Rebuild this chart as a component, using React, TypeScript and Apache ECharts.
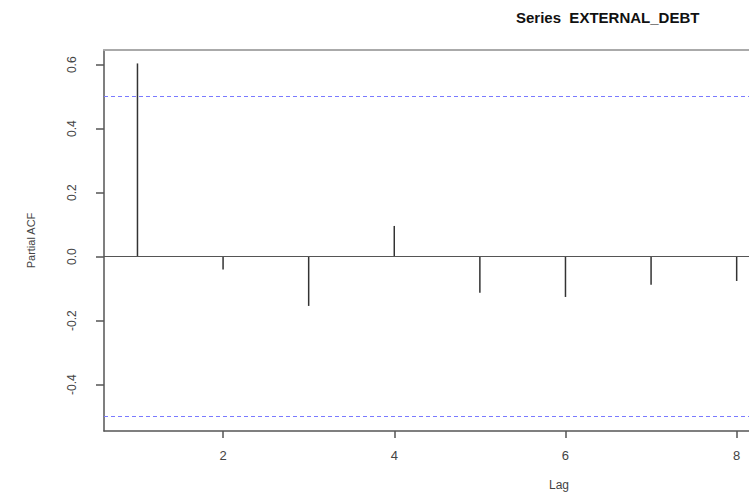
import React, { useEffect, useRef } from "react";
import * as echarts from "echarts";

const lags = [1, 2, 3, 4, 5, 6, 7, 8];
const pacf = [0.604, -0.04, -0.154, 0.096, -0.113, -0.126, -0.088, -0.076];
const ciBound = 0.502;
const xTicks = [2, 4, 6, 8];
const yTicks = [-0.4, -0.2, 0.0, 0.2, 0.4, 0.6];
const titleText = "Series  EXTERNAL_DEBT";

export default function App() {
  const ref = useRef<HTMLDivElement>(null);
  useEffect(() => {
    if (!ref.current) return;
    const chart = echarts.init(ref.current, null, { renderer: "svg" });
    const font = "'Liberation Sans', Arial, sans-serif";
    chart.setOption({
      animation: false,
      backgroundColor: "#ffffff",
      title: {
        text: titleText,
        left: 511,
        top: 5,
        textStyle: { fontFamily: font, fontSize: 15, fontWeight: "bold", color: "#111" },
      },
      grid: { left: 104, top: 50, right: 0, bottom: 66, containLabel: false },
      xAxis: [
        {
          type: "value",
          min: 0.609,
          max: 8.144,
          position: "bottom",
          splitLine: { show: false },
          axisLine: { show: true, onZero: false, lineStyle: { color: "#555", width: 1.5 } },
          axisTick: { show: true, length: 7, customValues: xTicks, lineStyle: { color: "#555", width: 1.5 } },
          axisLabel: {
            customValues: xTicks,
            margin: 18,
            fontFamily: font,
            fontSize: 13,
            color: "#444",
            formatter: (v: number) => String(v),
          },
        },
        {
          type: "value",
          min: 0.609,
          max: 8.144,
          position: "top",
          splitLine: { show: false },
          axisLine: { show: true, onZero: false, lineStyle: { color: "#aaa", width: 2 } },
          axisTick: { show: false },
          axisLabel: { show: false },
        },
      ],
      yAxis: {
        type: "value",
        min: -0.545,
        max: 0.646,
        name: "Partial ACF",
        nameLocation: "middle",
        nameGap: 68,
        nameTextStyle: { fontFamily: font, fontSize: 11, color: "#444" },
        splitLine: { show: false },
        axisLine: { show: true, onZero: false, lineStyle: { color: "#555", width: 1.5 } },
        axisTick: { show: true, length: 8, customValues: yTicks, lineStyle: { color: "#555", width: 1.5 } },
        axisLabel: {
          customValues: yTicks,
          rotate: 90,
          margin: 26,
          fontFamily: font,
          fontSize: 12,
          color: "#444",
          formatter: (v: number) => v.toFixed(1),
        },
      },
      graphic: [
        {
          type: "text",
          left: 549,
          top: 479,
          style: { text: "Lag", fontFamily: font, fontSize: 12, fill: "#444" },
        },
      ],
      series: [
        {
          type: "custom",
          xAxisIndex: 0,
          yAxisIndex: 0,
          data: lags.map((l, i) => [l, pacf[i]]),
          renderItem: (params: any, api: any) => {
            const p0 = api.coord([api.value(0), 0]);
            const p1 = api.coord([api.value(0), api.value(1)]);
            return {
              type: "line",
              shape: { x1: p0[0], y1: p0[1], x2: p1[0], y2: p1[1] },
              style: { stroke: "#333", lineWidth: 1.5 },
            };
          },
          markLine: {
            silent: true,
            symbol: "none",
            label: { show: false },
            data: [
              { yAxis: 0, lineStyle: { color: "#555", width: 1.2, type: "solid" } },
              { yAxis: ciBound, lineStyle: { color: "#7a7aff", width: 1.2, type: [4, 3] } },
              { yAxis: -ciBound, lineStyle: { color: "#7a7aff", width: 1.2, type: [4, 3] } },
            ],
          },
        },
      ],
    });
    return () => chart.dispose();
  }, []);
  return (
    <div
      ref={ref}
      style={{ position: "fixed", left: 0, top: 0, width: 749, height: 497 }}
    />
  );
}
